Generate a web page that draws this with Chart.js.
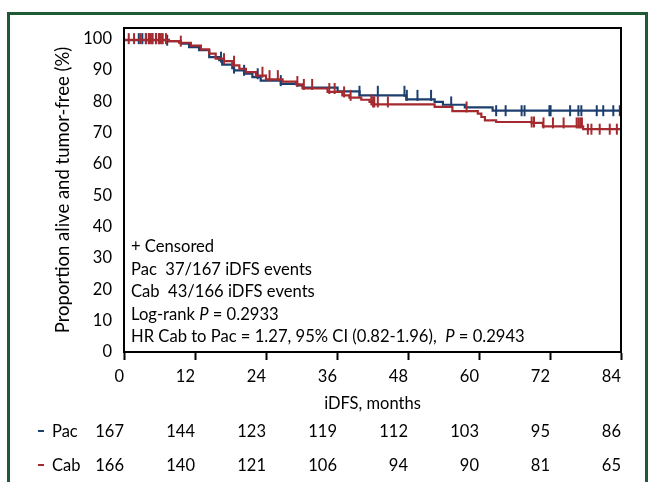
<!DOCTYPE html>
<html><head><meta charset="utf-8">
<script src="https://cdn.jsdelivr.net/npm/chart.js@4.4.0/dist/chart.umd.min.js"></script>
<style>html,body{margin:0;padding:0;background:#fff;}#wrap{width:648px;height:482px;}</style>
</head><body><div id="wrap"><canvas id="c" width="648" height="482"></canvas></div>
<script>
const FONT = "Lato, 'Open Sans', sans-serif";
const BLUE = '#1c3f6e';
const RED = '#a52a30';

const xTicks = [0, 12, 24, 36, 48, 60, 72, 84];
const yTicks = [0, 10, 20, 30, 40, 50, 60, 70, 80, 90, 100];

// Kaplan-Meier steps: time (months) and survival (%) after each drop
const pacTime = [0, 7.1, 9.6, 11.0, 12.7, 14.4, 16.1, 16.6, 18.3, 18.6, 20.3, 21.7, 23.1, 26.5, 29.3, 30.2, 36.1, 39.8, 47.7, 52.5, 53.9, 57.6, 62.3, 62.7, 84];
const pacSurv = [100, 99.5, 99.2, 98.4, 97.3, 96.3, 94.1, 93.1, 91.7, 90.6, 89.9, 88.8, 87.7, 86.6, 85.6, 85.1, 84.4, 83.2, 81.9, 80.6, 79.8, 78.9, 78.1, 77.0, 77.0];
const cabTime = [0, 7.6, 9.3, 11.3, 13.0, 14.4, 15.5, 16.9, 18.3, 19.5, 20.6, 22.3, 24.0, 26.8, 29.1, 30.2, 34.4, 36.9, 38.1, 40.1, 41.5, 42.0, 52.5, 55.5, 59.8, 60.4, 61.0, 62.9, 68.9, 70.8, 77.6, 78.2, 84];
const cabSurv = [100, 99.6, 99.2, 98.7, 97.8, 96.6, 95.2, 93.6, 92.8, 91.5, 90.4, 89.3, 88.2, 87.0, 86.3, 85.4, 84.1, 83.0, 81.9, 81.2, 80.5, 79.8, 79.0, 78.2, 76.9, 76.1, 75.0, 73.9, 73.4, 73.1, 72.0, 71.1, 71.1];

// censored times (months)
const pacCensor = [2.5, 3.1, 3.7, 4.2, 4.8, 5.4, 5.9, 6.5, 7.3, 16.4, 18.6, 20.3, 22.6, 26.5, 39.8, 42.9, 47.4, 47.8, 49.6, 51.9, 55.3, 62.9, 64.5, 67.2, 67.7, 71.9, 72.1, 75.4, 76.8, 77.3, 79.9, 81.0, 82.7, 83.8];
const cabCensor = [0.8, 1.7, 2.8, 3.7, 4.2, 4.5, 4.8, 5.4, 5.9, 6.2, 6.5, 7.1, 9.6, 16.9, 18.6, 23.4, 24.6, 26.0, 29.3, 30.4, 31.8, 34.7, 35.6, 37.2, 38.3, 41.8, 42.1, 42.3, 42.9, 44.6, 57.9, 68.9, 69.3, 70.9, 72.5, 74.3, 76.5, 76.8, 77.1, 77.4, 78.4, 79.0, 80.4, 82.1, 83.3];

const riskPac = [167, 144, 123, 119, 112, 103, 95, 86];
const riskCab = [166, 140, 121, 106, 94, 90, 81, 65];

const notes = [
  [['+ Censored', false]],
  [['Pac  37/167 iDFS events', false]],
  [['Cab  43/166 iDFS events', false]],
  [['Log-rank ', false], ['P', true], [' = 0.2933', false]],
  [['HR Cab to Pac = 1.27, 95% CI (0.82-1.96),  ', false], ['P', true], [' = 0.2943', false]]
];

function curve(t, s) { return t.map((v, i) => ({x: v, y: s[i]})); }
function onCurve(times, t, s) {
  return times.map(c => {
    let v = s[0];
    for (let i = 0; i < t.length; i++) { if (t[i] <= c) v = s[i]; }
    return {x: c, y: v};
  });
}

const framePlugin = {
  id: 'frame',
  beforeDraw(chart) {
    const ctx = chart.ctx;
    ctx.save();
    ctx.fillStyle = '#fff';
    ctx.fillRect(0, 0, chart.width, chart.height);
    ctx.strokeStyle = '#1e5b35';
    ctx.lineWidth = 3;
    ctx.beginPath();
    ctx.moveTo(8.5, 482);
    ctx.lineTo(8.5, 13.5);
    ctx.lineTo(646.5, 13.5);
    ctx.lineTo(646.5, 482);
    ctx.stroke();
    ctx.restore();
  },
  afterDatasetsDraw(chart) {
    const ctx = chart.ctx, a = chart.chartArea;
    ctx.save();
    ctx.strokeStyle = '#000';
    ctx.lineWidth = 2;
    ctx.strokeRect(a.left, a.top, a.right - a.left, a.bottom - a.top);
    ctx.restore();
  },
  afterDraw(chart) {
    const ctx = chart.ctx, xs = chart.scales.x, a = chart.chartArea;
    ctx.save();
    // annotation
    ctx.fillStyle = '#000';
    ctx.textBaseline = 'middle';
    ctx.textAlign = 'left';
    notes.forEach((line, i) => {
      let x = a.left + 7;
      const y = 247 + i * 22.4;
      line.forEach(([txt, it]) => {
        ctx.font = (it ? 'italic ' : '') + '16.6px ' + FONT;
        ctx.fillText(txt, x, y);
        x += ctx.measureText(txt).width;
      });
    });
    // risk table
    const rows = [['Pac', riskPac, BLUE, 432], ['Cab', riskCab, RED, 466]];
    rows.forEach(([name, vals, col, y]) => {
      ctx.fillStyle = col;
      ctx.fillRect(38, y - 2, 6, 2);
      ctx.fillStyle = '#000';
      ctx.font = '16.5px ' + FONT;
      ctx.textAlign = 'left';
      ctx.fillText(name, 52, y);
      ctx.textAlign = 'right';
      vals.forEach((v, i) => {
        ctx.fillText(String(v), xs.getPixelForValue(xTicks[i]), y);
      });
    });
    ctx.restore();
  }
};

new Chart(document.getElementById('c'), {
  type: 'scatter',
  data: {
    datasets: [
      {data: curve(cabTime, cabSurv), showLine: true, stepped: 'after', borderColor: RED, borderWidth: 2.2, pointRadius: 0, order: 1},
      {data: onCurve(cabCensor, cabTime, cabSurv), showLine: false, pointStyle: 'line', rotation: 90, pointRadius: 5.5, pointBorderWidth: 2, pointBorderColor: RED, order: 0},
      {data: curve(pacTime, pacSurv), showLine: true, stepped: 'after', borderColor: BLUE, borderWidth: 2.2, pointRadius: 0, order: 3},
      {data: onCurve(pacCensor, pacTime, pacSurv), showLine: false, pointStyle: 'line', rotation: 90, pointRadius: 5.5, pointBorderWidth: 2, pointBorderColor: BLUE, order: 2}
    ]
  },
  options: {
    responsive: false,
    animation: false,
    devicePixelRatio: 1,
    events: [],
    layout: {padding: {left: 40, top: 28, right: 27, bottom: 68}},
    plugins: {legend: {display: false}, tooltip: {enabled: false}},
    scales: {
      x: {
        type: 'linear', min: 0, max: 84,
        afterBuildTicks: s => { s.ticks = xTicks.map(v => ({value: v})); },
        afterFit: s => { s.height = 62; },
        ticks: {align: 'end', padding: 7, color: '#000', font: {family: FONT, size: 16.5}, maxRotation: 0, autoSkip: false},
        grid: {drawOnChartArea: false, drawTicks: true, tickLength: 8, tickColor: '#000', tickWidth: 2},
        border: {color: '#000', width: 2},
        title: {display: true, text: 'iDFS, months', color: '#000', font: {family: FONT, size: 16.5}, padding: {top: 0, bottom: 0}}
      },
      y: {
        type: 'linear', min: 0, max: 103.4,
        afterBuildTicks: s => { s.ticks = yTicks.map(v => ({value: v})); },
        afterFit: s => { s.width = 84; },
        ticks: {padding: 12, color: '#000', font: {family: FONT, size: 16.5}},
        grid: {display: false, drawTicks: false},
        border: {color: '#000', width: 2},
        title: {display: true, text: 'Proportion alive and tumor-free (%)', color: '#000', font: {family: FONT, size: 18.5}, padding: {top: 12, bottom: 0}}
      }
    }
  },
  plugins: [framePlugin]
});
</script>
</body></html>
